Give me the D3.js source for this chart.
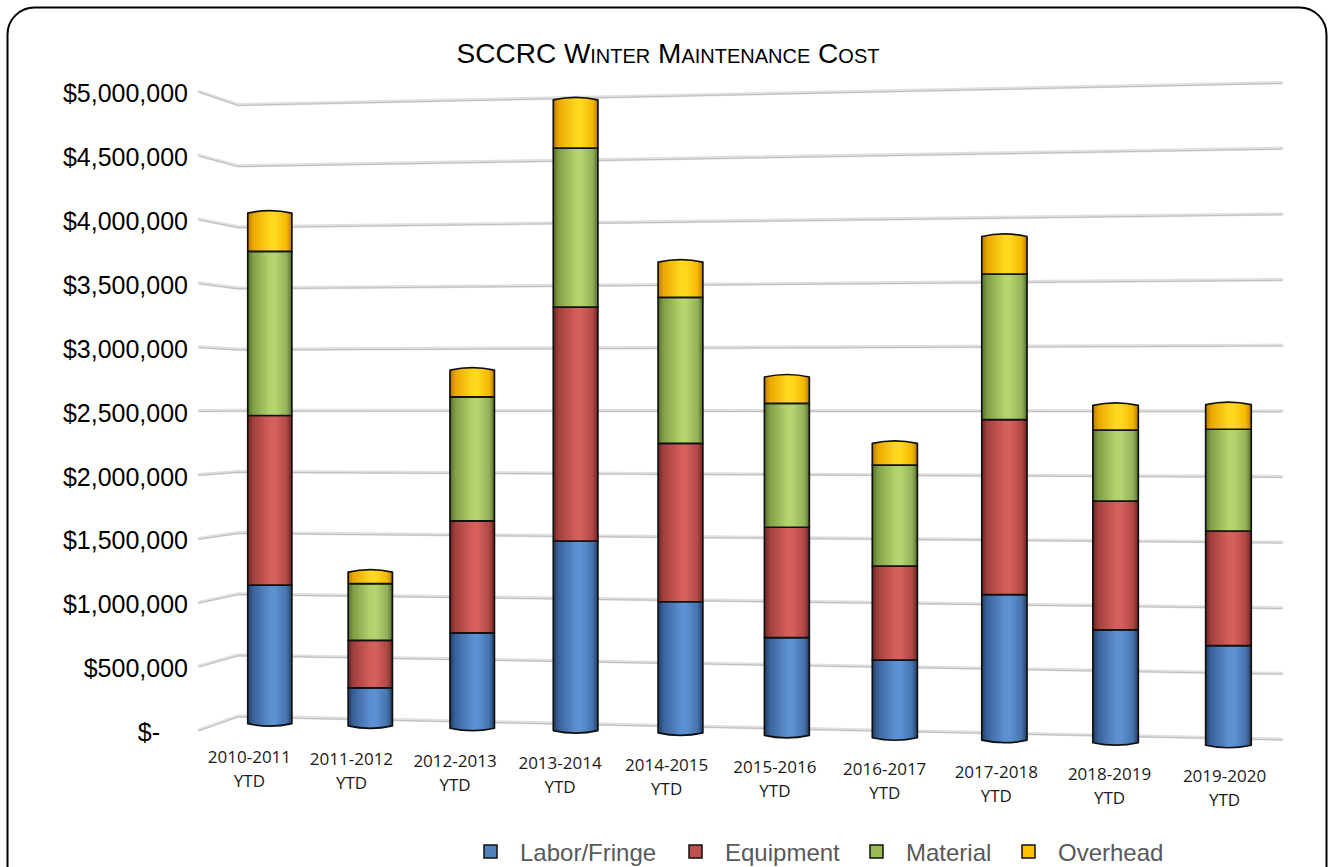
<!DOCTYPE html>
<html>
<head>
<meta charset="utf-8">
<script src="https://cdn.jsdelivr.net/npm/d3@7"></script>
<style>
  html, body { margin: 0; padding: 0; background: #fff; }
  svg { display: block; }
</style>
</head>
<body>
<svg id="chart" width="1331" height="867"></svg>
<script>
// ---- data -------------------------------------------------------------
const categories = ["2010-2011", "2011-2012", "2012-2013", "2013-2014", "2014-2015",
                    "2015-2016", "2016-2017", "2017-2018", "2018-2019", "2019-2020"];
const categorySuffix = "YTD";
const seriesNames = ["Labor/Fringe", "Equipment", "Material", "Overhead"];
const laborFringe = [1107000, 301000, 751000, 1482000, 1018000, 752000, 594000, 1105000, 850000, 745000];
const equipment   = [1354000, 377000, 882000, 1828000, 1229000, 851000, 719000, 1329000, 972000, 858000];
const material    = [1310000, 450000, 976000, 1243000, 1133000, 955000, 772000, 1106000, 535000, 761000];
const overhead    = [ 306000,  92000, 210000,  378000,  274000, 203000, 167000,  285000, 186000, 184000];
const tickValues  = [0, 500000, 1000000, 1500000, 2000000, 2500000, 3000000, 3500000, 4000000, 4500000, 5000000];
const tickLabels  = ["$-", "$500,000", "$1,000,000", "$1,500,000", "$2,000,000", "$2,500,000",
                     "$3,000,000", "$3,500,000", "$4,000,000", "$4,500,000", "$5,000,000"];
const chartTitle  = "SCCRC Winter Maintenance Cost";

const seriesValues = [laborFringe, equipment, material, overhead];
const seriesColors = ["#4f81bd", "#c0504d", "#9bbb59", "#ffc000"];
// cylinder shading: dark edge -> highlight -> dark edge
const seriesShades = [
  ["#223e63", "#3a629a", "#5b8fd0", "#5d92d4", "#4574ae", "#243f63"],
  ["#6e2523", "#a2403d", "#d45e5a", "#d5605c", "#b04845", "#6e2523"],
  ["#55702a", "#809f47", "#b2d36c", "#b4d56f", "#93b25a", "#56712b"],
  ["#b87a00", "#eaa700", "#ffd71e", "#ffd91f", "#f5b800", "#b87a00"]
];

// ---- geometry of the perspective box -----------------------------------
const svg = d3.select("#chart");

const box = {
  x0: 238,          // back-left corner, screen x
  span: 1044,       // back wall width on screen
  horizon: 403.7,   // screen y of the eye level
  floorDist: 312.5, // floor below horizon at back-left
  height: 611.5,    // wall height at back-left
  persX: 0.0686,    // foreshortening along the category axis
  persZ: 0.0423,    // foreshortening along depth
  depthShift: -39   // depth direction shifts left on screen
};

// X: 0..1 along categories, V: 0..1 of value range, Z: 0 back .. 1 front
function project(X, V, Z) {
  const s = 1 / (1 - box.persX * X - box.persZ * Z);
  return [
    box.x0 + (box.span * (1 - box.persX) * X + box.depthShift * (1 - box.persZ) * Z) * s,
    box.horizon + (box.floorDist - box.height * V) * s,
    s
  ];
}

const xBand = d3.scaleBand().domain(categories).range([0, 1]);
const vScale = d3.scaleLinear().domain([0, 5000000]).range([0, 1]);
const barDepth = 0.47;

// ---- frame ------------------------------------------------------------
svg.append("rect")
  .attr("x", 7.5).attr("y", 7.5)
  .attr("width", 1319).attr("height", 920)
  .attr("rx", 27).attr("ry", 27)
  .attr("fill", "#fff").attr("stroke", "#000").attr("stroke-width", 2);

// ---- title (small caps) ------------------------------------------------
svg.append("text")
  .attr("x", 668).attr("y", 63)
  .attr("text-anchor", "middle")
  .style("font-family", "'Liberation Sans', Arial, sans-serif")
  .style("font-size", "28px")
  .style("font-variant", "small-caps")
  .attr("fill", "#000")
  .text(chartTitle);

// ---- gridlines on side and back walls ---------------------------------
const defs = svg.append("defs");
const grid = svg.append("g");
tickValues.forEach(t => {
  const v = vScale(t);
  const fl = project(0, v, 1), bl = project(0, v, 0), br = project(1, v, 0);
  const pts = [[fl[0], fl[1]], [bl[0], bl[1]], [br[0], br[1]]];
  grid.append("path")
    .attr("d", d3.line()(pts))
    .attr("fill", "none").attr("stroke", "#e0e0e0").attr("stroke-width", 3.4)
    .attr("stroke-linejoin", "round").attr("stroke-linecap", "round");
  grid.append("path")
    .attr("d", d3.line()(pts.map(p => [p[0], p[1] + 0.7])))
    .attr("fill", "none").attr("stroke", "#bdbdbd").attr("stroke-width", 1)
    .attr("stroke-linejoin", "round");
});

// ---- value axis labels -------------------------------------------------
svg.append("g").selectAll("text")
  .data(tickValues)
  .join("text")
  .attr("x", (d, i) => i === 0 ? 160 : 188)
  .attr("y", d => project(0, vScale(d), 1)[1] + 2)
  .attr("text-anchor", "end")
  .attr("dominant-baseline", "central")
  .style("font-family", "'Liberation Sans', Arial, sans-serif")
  .style("font-size", "25px")
  .attr("fill", "#000")
  .text((d, i) => tickLabels[i]);

// ---- cylinder gradients ------------------------------------------------
seriesShades.forEach((shades, k) => {
  const g = defs.append("linearGradient")
    .attr("id", "cyl" + k).attr("x1", 0).attr("x2", 1).attr("y1", 0).attr("y2", 0);
  const offs = [0, 0.12, 0.5, 0.62, 0.88, 1];
  shades.forEach((c, j) => g.append("stop").attr("offset", offs[j]).attr("stop-color", c));
});

// ---- stacked cylinders -------------------------------------------------
const stack = d3.stack().keys(d3.range(seriesNames.length))
  .value((d, k) => seriesValues[k][d]);
const stacked = stack(d3.range(categories.length));

const bars = svg.append("g");
categories.forEach((cat, i) => {
  const Xc = xBand(cat) + xBand.bandwidth() / 2;
  const base = project(Xc, 0, barDepth);
  const cx = base[0];
  const r = 21.8 * Math.sqrt(base[2]);
  const yOf = v => project(Xc, vScale(v), barDepth)[1];
  const g = bars.append("g");
  const nSeries = stacked.length;
  stacked.forEach((layer, k) => {
    const lo = layer[i][0], hi = layer[i][1];
    const yb = yOf(lo), yt = yOf(hi);
    const bulge = 5;
    let p = `M${cx - r},${yt}`;
    if (k === nSeries - 1) p += ` Q${cx},${yt - bulge} ${cx + r},${yt}`;
    else p += ` L${cx + r},${yt}`;
    p += ` L${cx + r},${yb}`;
    if (k === 0) p += ` Q${cx},${yb + bulge} ${cx - r},${yb}`;
    else p += ` L${cx - r},${yb}`;
    p += " Z";
    g.append("path")
      .attr("d", p)
      .attr("fill", `url(#cyl${k})`)
      .attr("stroke", "#111").attr("stroke-width", 1.7)
      .attr("stroke-linejoin", "round");
  });
});

// ---- category labels ---------------------------------------------------
const catG = svg.append("g");
categories.forEach((cat, i) => {
  const Xc = xBand(cat) + xBand.bandwidth() / 2;
  const p = project(Xc, 0, 1);
  const lx = p[0] - 7 * Xc;
  const t = catG.append("text")
    .attr("text-anchor", "middle")
    .style("font-family", "'Open Sans', sans-serif")
    .style("font-size", "17px")
    .attr("fill", "#1a1a1a");
  t.append("tspan").attr("x", lx).attr("y", p[1] + 32 - 4 * Xc).text(cat);
  t.append("tspan").attr("x", lx).attr("dy", 24).text(categorySuffix);
});

// ---- legend ------------------------------------------------------------
const legendX = [484, 689, 870, 1022];
const legend = svg.append("g");
seriesNames.forEach((name, k) => {
  legend.append("rect")
    .attr("x", legendX[k]).attr("y", 845)
    .attr("width", 13).attr("height", 13)
    .attr("fill", seriesColors[k]).attr("stroke", "#111").attr("stroke-width", 1.5);
  legend.append("text")
    .attr("x", legendX[k] + 36).attr("y", 861)
    .style("font-family", "'Liberation Sans', Arial, sans-serif")
    .style("font-size", "24px")
    .attr("fill", "#595959")
    .text(name);
});
</script>
</body>
</html>
